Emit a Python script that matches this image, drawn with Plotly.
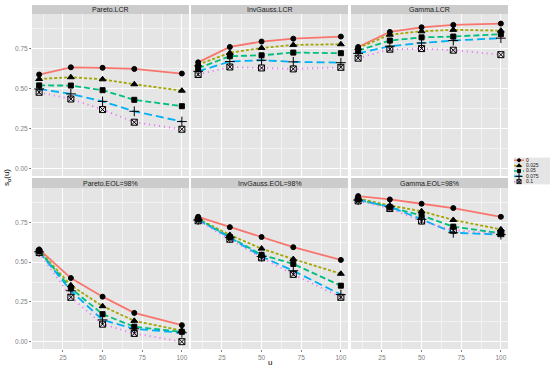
import plotly.graph_objects as go

# ---------------- data ----------------
u_values = [10, 30, 50, 70, 100]
alpha_labels = ["0", "0.025", "0.05", "0.075", "0.1"]
panel_titles = ["Pareto.LCR", "InvGauss.LCR", "Gamma.LCR",
                "Pareto.EOL=98%", "InvGauss.EOL=98%", "Gamma.EOL=98%"]

pareto_lcr = [
    [0.588, 0.633, 0.630, 0.623, 0.594],
    [0.560, 0.571, 0.558, 0.527, 0.487],
    [0.520, 0.519, 0.490, 0.430, 0.390],
    [0.498, 0.467, 0.420, 0.358, 0.294],
    [0.477, 0.435, 0.369, 0.290, 0.246],
]
invgauss_lcr = [
    [0.664, 0.760, 0.794, 0.812, 0.825],
    [0.650, 0.723, 0.754, 0.773, 0.777],
    [0.627, 0.702, 0.708, 0.725, 0.721],
    [0.608, 0.669, 0.677, 0.667, 0.662],
    [0.588, 0.635, 0.629, 0.623, 0.633],
]
gamma_lcr = [
    [0.760, 0.854, 0.883, 0.898, 0.906],
    [0.754, 0.837, 0.858, 0.867, 0.862],
    [0.737, 0.800, 0.820, 0.825, 0.840],
    [0.720, 0.765, 0.785, 0.800, 0.815],
    [0.690, 0.746, 0.750, 0.740, 0.712],
]
pareto_eol = [
    [0.580, 0.400, 0.283, 0.181, 0.104],
    [0.575, 0.354, 0.223, 0.131, 0.070],
    [0.570, 0.335, 0.173, 0.094, 0.062],
    [0.565, 0.320, 0.137, 0.081, 0.056],
    [0.560, 0.279, 0.110, 0.052, 0.000],
]
invgauss_eol = [
    [0.785, 0.720, 0.658, 0.594, 0.514],
    [0.773, 0.671, 0.585, 0.519, 0.427],
    [0.770, 0.658, 0.546, 0.489, 0.352],
    [0.765, 0.654, 0.535, 0.446, 0.296],
    [0.760, 0.644, 0.527, 0.423, 0.279],
]
gamma_eol = [
    [0.915, 0.894, 0.867, 0.840, 0.785],
    [0.900, 0.856, 0.820, 0.765, 0.706],
    [0.895, 0.846, 0.794, 0.723, 0.681],
    [0.890, 0.848, 0.769, 0.685, 0.673],
    [0.885, 0.837, 0.758, 0.700, 0.679],
]
panels = [pareto_lcr, invgauss_lcr, gamma_lcr, pareto_eol, invgauss_eol, gamma_eol]

x_ticks = [25, 50, 75, 100]
y_ticks = [0.0, 0.25, 0.5, 0.75]
y_tick_labels = ["0.00", "0.25", "0.50", "0.75"]

# ---------------- styles ----------------
colors = ["#F8766D", "#A3A500", "#00BF7D", "#00B0F6", "#E76BF3"]
dashes = ["solid", "3px,2px", "6px,3px", "8px,4px", "1px,4px"]
symbols = ["circle", "triangle-up", "square", "cross-thin-open", "square-x-open"]
msizes = [5, 6, 5, 7, 6]

W, H = 550, 370
FONT = "Liberation Sans, Arial, sans-serif"
col_px = [(32, 189), (191, 348), (351, 508)]
row_px = [(14, 176), (188, 349)]
strip_px = [(5, 14), (178, 188)]

def xd(a, b):
    return [a / W, b / W]

def yd(top, bot):
    return [1 - bot / H, 1 - top / H]

fig = go.Figure()
layout = dict(
    width=W, height=H,
    margin=dict(l=0, r=0, t=0, b=0),
    paper_bgcolor="white", plot_bgcolor="#E5E5E5",
    showlegend=False,
    font=dict(family=FONT, size=7, color="#1A1A1A"),
)
shapes, annotations = [], []

for p in range(6):
    r, c = divmod(p, 3)
    idx = p + 1
    xa = "xaxis" if idx == 1 else f"xaxis{idx}"
    ya = "yaxis" if idx == 1 else f"yaxis{idx}"
    xref = "x" if idx == 1 else f"x{idx}"
    yref = "y" if idx == 1 else f"y{idx}"
    layout[xa] = dict(
        domain=xd(*col_px[c]), range=[5.5, 104.5], anchor=yref,
        tickvals=x_ticks, ticktext=[str(t) for t in x_ticks],
        showticklabels=(r == 1), ticks="outside" if r == 1 else "",
        ticklen=2, tickcolor="#7F7F7F", tickwidth=1,
        tickfont=dict(size=6.5, color="#7F7F7F"),
        showgrid=True, gridcolor="white", gridwidth=1.1, zeroline=False,
        showline=False, fixedrange=True,
        minor=dict(tickvals=[12.5, 37.5, 62.5, 87.5], showgrid=True,
                   gridcolor="#F2F2F2", gridwidth=0.5, ticks=""),
    )
    layout[ya] = dict(
        domain=yd(*row_px[r]), range=[-0.046, 0.966], anchor=xref,
        tickvals=y_ticks, ticktext=y_tick_labels,
        showticklabels=(c == 0), ticks="outside" if c == 0 else "",
        ticklen=2, tickcolor="#7F7F7F", tickwidth=1,
        tickfont=dict(size=6.5, color="#7F7F7F"),
        showgrid=True, gridcolor="white", gridwidth=1.1, zeroline=False,
        showline=False, fixedrange=True,
        minor=dict(tickvals=[0.125, 0.375, 0.625, 0.875], showgrid=True,
                   gridcolor="#F2F2F2", gridwidth=0.5, ticks=""),
    )
    for s in range(5):
        fig.add_trace(go.Scatter(
            x=u_values, y=panels[p][s], xaxis=xref, yaxis=yref,
            mode="lines", line=dict(color=colors[s], width=1.8, dash=dashes[s]),
            hoverinfo="skip"))
    for s in range(5):
        fig.add_trace(go.Scatter(
            x=u_values, y=panels[p][s], xaxis=xref, yaxis=yref,
            mode="markers",
            marker=dict(symbol=symbols[s], size=msizes[s], color="black",
                        line=dict(color="black", width=1)),
            hoverinfo="skip"))
    # strip
    x0, x1 = col_px[c]
    t0, t1 = strip_px[r]
    shapes.append(dict(type="rect", xref="paper", yref="paper",
                       x0=x0 / W, x1=x1 / W, y0=1 - t1 / H, y1=1 - t0 / H,
                       fillcolor="#CCCCCC", line=dict(width=0), layer="below"))
    annotations.append(dict(text=panel_titles[p], xref="paper", yref="paper",
                            x=(x0 + x1) / 2 / W, y=1 - (t0 + t1) / 2 / H,
                            xanchor="center", yanchor="middle", showarrow=False,
                            font=dict(size=7, color="#1A1A1A")))

# ---------------- legend (drawn on a small hidden axis, pixel units) ----------------
layout["xaxis7"] = dict(domain=xd(514, 550), range=[0, 36], anchor="y7",
                        visible=False, fixedrange=True)
layout["yaxis7"] = dict(domain=[1 - 184.4 / H, 1 - 157.6 / H], range=[5.5, 0.5],
                        anchor="x7", visible=False, fixedrange=True)
for s in range(5):
    fig.add_trace(go.Scatter(x=[0, 10], y=[s + 1, s + 1], xaxis="x7", yaxis="y7",
                             mode="lines",
                             line=dict(color=colors[s], width=1.5, dash=dashes[s]),
                             hoverinfo="skip"))
    fig.add_trace(go.Scatter(x=[5], y=[s + 1], xaxis="x7", yaxis="y7",
                             mode="markers",
                             marker=dict(symbol=symbols[s], size=msizes[s] - 2,
                                         color="black",
                                         line=dict(color="black", width=1)),
                             hoverinfo="skip"))
    fig.add_trace(go.Scatter(x=[12], y=[s + 1], xaxis="x7", yaxis="y7",
                             mode="text", text=[alpha_labels[s]],
                             textposition="middle right", cliponaxis=False,
                             textfont=dict(size=5, color="#1A1A1A", family=FONT),
                             hoverinfo="skip"))

# axis titles
annotations.append(dict(text="u", xref="paper", yref="paper", x=270 / W,
                        y=1 - 362 / H, xanchor="center", yanchor="middle",
                        showarrow=False, font=dict(size=8, color="black")))
annotations.append(dict(text="s<sub>α</sub>(u)", xref="paper", yref="paper",
                        x=7 / W, y=1 - 178 / H, xanchor="center", yanchor="middle",
                        textangle=-90, showarrow=False,
                        font=dict(size=8, color="black")))

layout["shapes"] = shapes
layout["annotations"] = annotations
fig.update_layout(**layout)
fig.write_html("out.html", config={"displayModeBar": False},
               post_script="document.body.style.margin='0';document.body.style.overflow='hidden';")
